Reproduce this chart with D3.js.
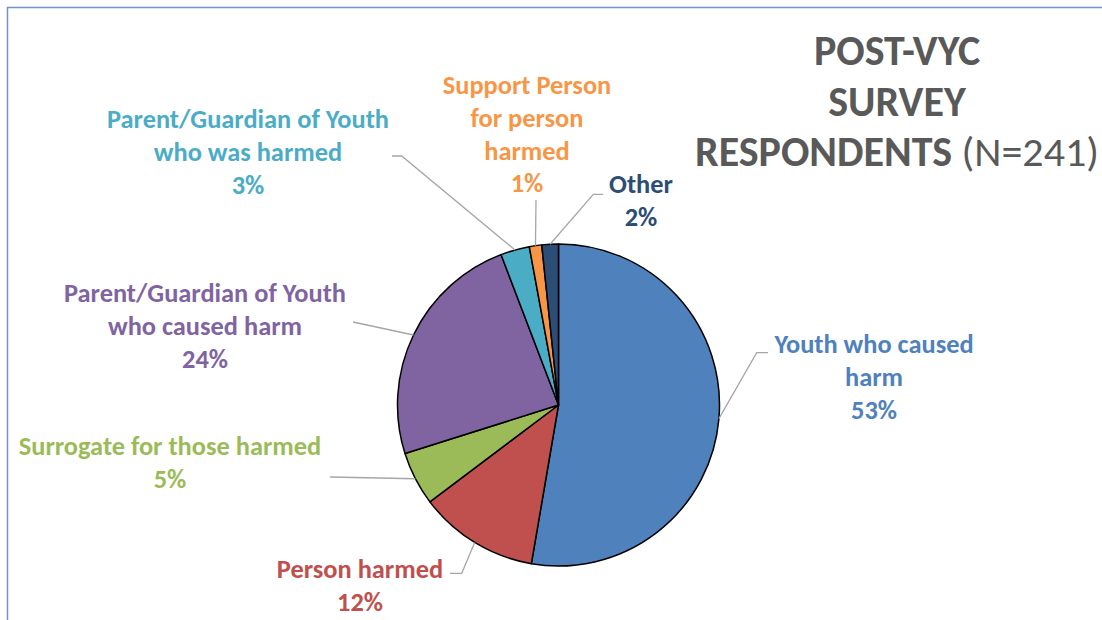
<!DOCTYPE html>
<html>
<head>
<meta charset="utf-8">
<script src="https://cdn.jsdelivr.net/npm/d3@7"></script>
<style>
  html, body { margin: 0; padding: 0; background: #fff; }
  svg { display: block; }
  text { font-family: Carlito, Lato, "Open Sans", sans-serif; }
</style>
</head>
<body>
<svg id="chart" width="1102" height="620"></svg>
<script>
// ---- data ----
const categories = [
  "Youth who caused harm",
  "Person harmed",
  "Surrogate for those harmed",
  "Parent/Guardian of Youth who caused harm",
  "Parent/Guardian of Youth who was harmed",
  "Support Person for person harmed",
  "Other"
];
const counts = [127, 29, 13, 58, 7, 3, 4];
const total = 241;
const colors = ["#4F81BD", "#C0504D", "#9BBB59", "#8064A2", "#4BACC6", "#F79646", "#2C4D75"];
const titleLines = ["POST-VYC", "SURVEY", "RESPONDENTS"];
const titleSuffix = " (N=241)";

// label layout (text lines, anchor, elbow points)
const labelLines = [
  ["Youth who caused", "harm"],
  ["Person harmed"],
  ["Surrogate for those harmed"],
  ["Parent/Guardian of Youth", "who caused harm"],
  ["Parent/Guardian of Youth", "who was harmed"],
  ["Support Person", "for person", "harmed"],
  ["Other"]
];
const labelPos = [
  {x: 874, y: 353}, {x: 360, y: 578}, {x: 170, y: 455},
  {x: 205, y: 302}, {x: 248, y: 128}, {x: 527, y: 94}, {x: 641, y: 193}
];
const leaderPts = [
  [[756.7, 352.7], [768, 352.7]],
  [[461.7, 573.3], [450, 573.3]],
  [[330, 477]],
  [[353, 322]],
  [[401.7, 156], [392, 156]],
  [[536, 200]],
  [[593.3, 194.3], [603, 194.3]]
];

const svg = d3.select("#chart");
const cx = 558.5, cy = 405, r = 161;

// border
svg.append("path")
  .attr("d", "M7.5,620 L7.5,7.5 L1102,7.5")
  .attr("fill", "none").attr("stroke", "#6F93CC").attr("stroke-width", 1.5);

const pie = d3.pie().sort(null).value(d => d)(counts);
const arc = d3.arc().innerRadius(0).outerRadius(r);
const g = svg.append("g").attr("transform", `translate(${cx},${cy})`);

// leader lines
const lineGen = d3.line();
pie.forEach((p, i) => {
  const a = (p.startAngle + p.endAngle) / 2;
  const start = [cx + r * Math.sin(a), cy - r * Math.cos(a)];
  svg.append("path")
    .attr("d", lineGen([start, ...leaderPts[i]]))
    .attr("fill", "none").attr("stroke", "#A6A6A6").attr("stroke-width", 1.3);
});

g.selectAll("path.slice").data(pie).join("path")
  .attr("class", "slice")
  .attr("d", arc)
  .attr("fill", (d, i) => colors[i])
  .attr("stroke", "#000").attr("stroke-width", 1.5).attr("stroke-linejoin", "round");

// labels
const fmt = v => Math.round(v / total * 100) + "%";
const lh = 32.8;
pie.forEach((p, i) => {
  const lines = labelLines[i].concat([fmt(p.data)]);
  const t = svg.append("text")
    .attr("text-anchor", "middle")
    .attr("fill", colors[i])
    .attr("font-weight", "bold")
    .attr("font-size", 26.4);
  lines.forEach((s, k) => {
    t.append("tspan").attr("x", labelPos[i].x).attr("y", labelPos[i].y + k * lh).text(s);
  });
});

// title
const tt = svg.append("text").attr("text-anchor", "middle").attr("fill", "#595959").attr("font-size", 42);
titleLines.forEach((s, k) => {
  const ts = tt.append("tspan").attr("x", 897).attr("y", 65 + k * 50.5).attr("font-weight", "bold").text(s);
  if (k === titleLines.length - 1) {
    tt.append("tspan").attr("font-weight", "normal").text(titleSuffix);
  }
});
</script>
</body>
</html>
